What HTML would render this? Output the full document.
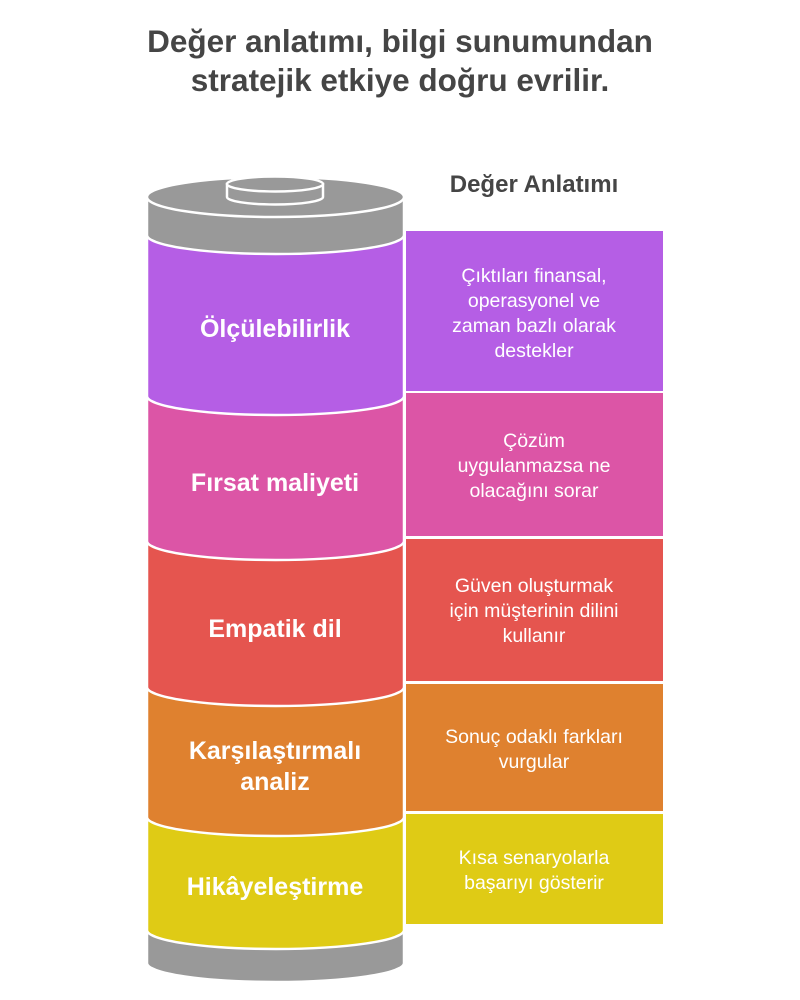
<!DOCTYPE html>
<html><head><meta charset="utf-8"><style>
html,body{margin:0;padding:0;background:#fff;}
svg{display:block;font-family:"Liberation Sans",sans-serif;}
</style></head><body>
<svg width="800" height="1000" viewBox="0 0 800 1000" xmlns="http://www.w3.org/2000/svg">
<text x="400" y="52" text-anchor="middle" font-size="31.5" font-weight="bold" fill="#454545">Değer anlatımı, bilgi sunumundan</text>
<text x="400" y="91" text-anchor="middle" font-size="31.5" font-weight="bold" fill="#454545">stratejik etkiye doğru evrilir.</text>
<text x="534" y="192" text-anchor="middle" font-size="24" font-weight="bold" fill="#454545">Değer Anlatımı</text>

<g stroke="#fff" stroke-width="2.5">
<path d="M147,925 L147,963 A128.5,19 0 0 0 404,963 L404,925 Z" fill="#999"/>
<path d="M147,812 L147,930 A128.5,19 0 0 0 404,930 L404,812 Z" fill="#dfcb15"/>
<path d="M147,682 L147,817 A128.5,19 0 0 0 404,817 L404,682 Z" fill="#df812f"/>
<path d="M147,536 L147,687 A128.5,19 0 0 0 404,687 L404,536 Z" fill="#e5554f"/>
<path d="M147,390 L147,541 A128.5,19 0 0 0 404,541 L404,390 Z" fill="#dc55a6"/>
<path d="M147,230 L147,396 A128.5,19 0 0 0 404,396 L404,230 Z" fill="#b55ee5"/>
<path d="M147,197 L147,235 A128.5,19 0 0 0 404,235 L404,197 Z" fill="#999"/>
<ellipse cx="275.5" cy="197" rx="128.5" ry="20" fill="#999"/>
<path d="M227,184 L227,197 A48,7.5 0 0 0 323,197 L323,184 Z" fill="#999"/>
<ellipse cx="275" cy="184" rx="48" ry="7.5" fill="#999"/>
</g>

<g fill="#fff" font-weight="bold" font-size="25" text-anchor="middle">
<text x="275" y="337">Ölçülebilirlik</text>
<text x="275" y="491">Fırsat maliyeti</text>
<text x="275" y="637">Empatik dil</text>
<text x="275" y="759">Karşılaştırmalı</text>
<text x="275" y="790">analiz</text>
<text x="275" y="895">Hikâyeleştirme</text>
</g>

<rect x="406" y="231" width="257" height="160" fill="#b55ee5"/>
<rect x="406" y="393" width="257" height="143" fill="#dc55a6"/>
<rect x="406" y="539" width="257" height="142" fill="#e5554f"/>
<rect x="406" y="684" width="257" height="127" fill="#df812f"/>
<rect x="406" y="814" width="257" height="110" fill="#dfcb15"/>

<g fill="#fff" font-size="19.5" text-anchor="middle">
<text x="534" y="282">Çıktıları finansal,</text>
<text x="534" y="307">operasyonel ve</text>
<text x="534" y="332">zaman bazlı olarak</text>
<text x="534" y="357">destekler</text>
<text x="534" y="447">Çözüm</text>
<text x="534" y="472">uygulanmazsa ne</text>
<text x="534" y="497">olacağını sorar</text>
<text x="534" y="592">Güven oluşturmak</text>
<text x="534" y="617">için müşterinin dilini</text>
<text x="534" y="642">kullanır</text>
<text x="534" y="743">Sonuç odaklı farkları</text>
<text x="534" y="768">vurgular</text>
<text x="534" y="864">Kısa senaryolarla</text>
<text x="534" y="889">başarıyı gösterir</text>
</g>
</svg>
</body></html>
